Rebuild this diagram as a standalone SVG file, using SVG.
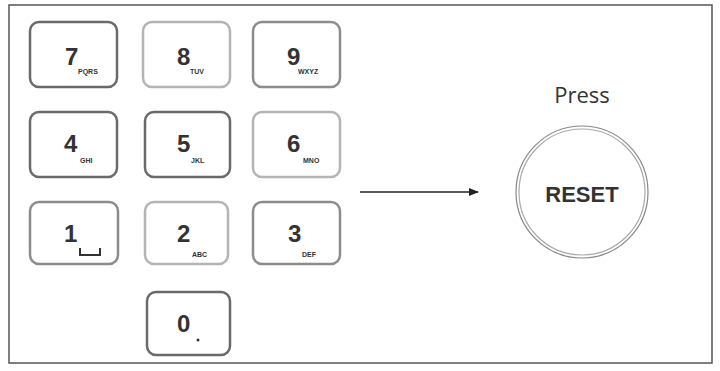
<svg xmlns="http://www.w3.org/2000/svg" width="720" height="371" viewBox="0 0 720 371">
<style>
.key{fill:#fff;stroke-width:2.5}
.dk{stroke:#6a6a6a}
.lt{stroke:#b4b4b4}
.md{stroke:#8c8c8c}
.dg{font-family:"Liberation Sans",Arial,sans-serif;font-weight:bold;font-size:24px;fill:#333}
.sb{font-family:"Liberation Sans",Arial,sans-serif;font-weight:bold;font-size:7px;fill:#333}
</style>
<defs>
<marker id="ah" markerWidth="10" markerHeight="8" refX="9" refY="4" orient="auto" markerUnits="userSpaceOnUse">
<path d="M0,0 L10,4 L0,8 Z" fill="#222"/>
</marker>
</defs>
<rect x="0" y="0" width="720" height="371" fill="#fff"/>
<rect id="frame" x="9" y="5" width="703" height="358" fill="none" stroke="#555" stroke-width="1.5"/>

<g id="key7"><rect class="key dk" x="30" y="22" width="87" height="65" rx="9"/><text class="dg" x="65" y="65">7</text><text class="sb" x="78" y="74">PQRS</text></g>
<g id="key8"><rect class="key lt" x="143" y="22" width="87" height="65" rx="9"/><text class="dg" x="177" y="65">8</text><text class="sb" x="190" y="74">TUV</text></g>
<g id="key9"><rect class="key md" x="253" y="22" width="87" height="65" rx="9"/><text class="dg" x="287" y="65">9</text><text class="sb" x="298" y="74">WXYZ</text></g>

<g id="key4"><rect class="key dk" x="30" y="112" width="87" height="65" rx="9"/><text class="dg" x="64" y="152">4</text><text class="sb" x="80" y="163">GHI</text></g>
<g id="key5"><rect class="key dk" x="145" y="112" width="85" height="65" rx="9"/><text class="dg" x="177" y="152">5</text><text class="sb" x="191" y="163">JKL</text></g>
<g id="key6"><rect class="key lt" x="253" y="112" width="87" height="65" rx="9"/><text class="dg" x="287" y="152">6</text><text class="sb" x="303" y="163">MNO</text></g>

<g id="key1"><rect class="key md" x="30" y="202" width="88" height="62" rx="9"/><text class="dg" x="64" y="242">1</text><path d="M80,248 V255 H100 V248" fill="none" stroke="#333" stroke-width="2"/></g>
<g id="key2"><rect class="key lt" x="145" y="202" width="83" height="62" rx="9"/><text class="dg" x="177" y="242">2</text><text class="sb" x="192" y="257">ABC</text></g>
<g id="key3"><rect class="key md" x="253" y="202" width="87" height="62" rx="9"/><text class="dg" x="288" y="242">3</text><text class="sb" x="302" y="257">DEF</text></g>

<g id="key0"><rect class="key dk" x="147" y="292" width="83" height="63" rx="9"/><text class="dg" x="177" y="332">0</text><circle cx="198" cy="340" r="1.5" fill="#333"/></g>

<g id="connectors"><line x1="360" y1="192" x2="478" y2="192" stroke="#222" stroke-width="1.5" marker-end="url(#ah)"/></g>

<g id="reset">
<text x="582" y="103" text-anchor="middle" font-family="'Open Sans','Liberation Sans',sans-serif" font-size="22" fill="#333">Press</text>
<circle cx="582" cy="192" r="66" fill="#fff" stroke="#888" stroke-width="1.2"/>
<circle cx="582" cy="192" r="63" fill="none" stroke="#aaa" stroke-width="1.2"/>
<text x="582" y="202" text-anchor="middle" font-family="'Liberation Sans',Arial,sans-serif" font-weight="bold" font-size="22" fill="#333">RESET</text>
</g>
</svg>
